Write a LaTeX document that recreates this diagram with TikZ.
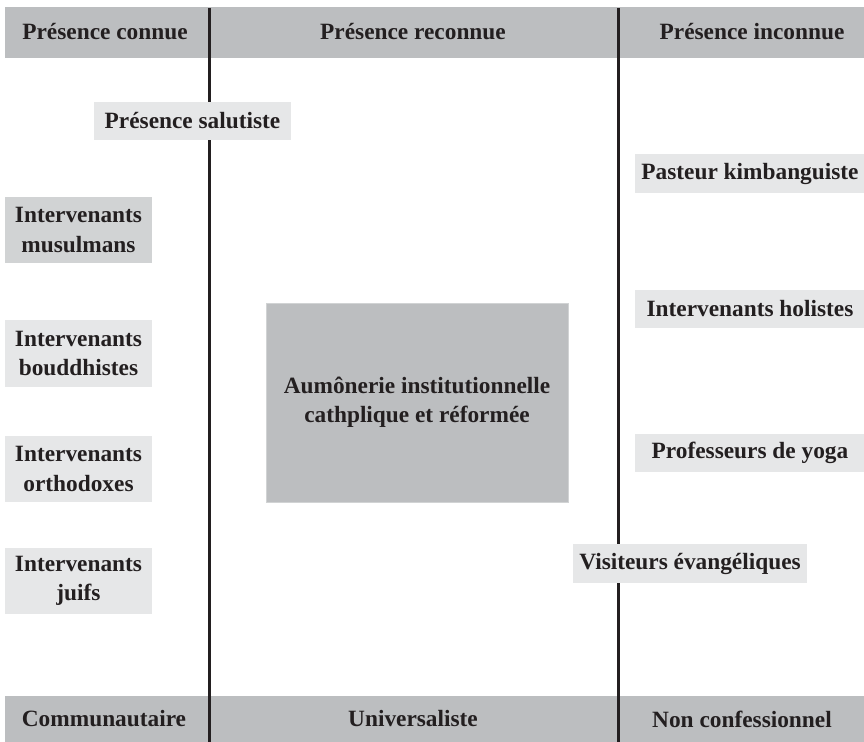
\documentclass[tikz,border=0pt]{standalone}
\usepackage{fontspec}
\setmainfont{Liberation Serif}
\definecolor{bandgray}{RGB}{188,190,192}
\definecolor{midgray}{RGB}{209,211,212}
\definecolor{lightgray}{RGB}{230,231,232}
\definecolor{ink}{RGB}{35,31,32}
\begin{document}
\begin{tikzpicture}[x=0.75pt,y=-0.75pt,
  lbl/.style={font=\bfseries\fontsize{17.5}{22}\selectfont, text=ink, align=center},
  band/.style={fill=bandgray, draw=none, inner sep=0pt, outer sep=0pt},
  tag/.style={lbl, fill=lightgray, draw=none, inner sep=0pt, outer sep=0pt},
  darktag/.style={tag, fill=midgray},
  divider/.style={draw=ink, line width=2.25pt},
  wh/.style 2 args={minimum width={#1*0.75pt}, minimum height={#2*0.75pt}}
]
\useasboundingbox (0,0) rectangle (864,742);

% bands
\node[band, wh={859}{51}] (topband) at (434.5,32.5) {};
\node[band, wh={859}{46}] (botband) at (434.5,719) {};

\node[lbl] (h1) at (105,32) {Présence connue};
\node[lbl] (h2) at (413,32) {Présence reconnue};
\node[lbl] (h3) at (752,32) {Présence inconnue};

\node[lbl] (f1) at (104,719) {Communautaire};
\node[lbl] (f2) at (413,719) {Universaliste};
\node[lbl] (f3) at (742,719) {Non confessionnel};

% dividers
\coordinate (l1t) at (209,8);
\coordinate (l1b) at (209,742);
\coordinate (l2t) at (618,8);
\coordinate (l2b) at (618,742);
\draw[divider] (l1t) -- (l1b);
\draw[divider] (l2t) -- (l2b);

% centre box
\node[lbl, fill=bandgray, draw=midgray, line width=0.75pt, inner sep=0pt, wh={302}{199}] (aum) at (417,402.5)
  {Aumônerie institutionnelle\\cathplique et réformée};

% left column
\node[tag, wh={197}{38}] (sal) at (192.5,121) {Présence salutiste};
\node[darktag, wh={147}{66}] (mus) at (78.5,230) {Intervenants\\musulmans};
\node[tag, wh={147}{67}] (bou) at (78.5,353.5) {Intervenants\\bouddhistes};
\node[tag, wh={147}{66}] (ort) at (78.5,469) {Intervenants\\orthodoxes};
\node[tag, wh={147}{66}] (jui) at (78.5,581) {Intervenants\\juifs};

% right column
\node[tag, wh={230}{39}] (pas) at (750,173.5) {Pasteur kimbanguiste};
\node[tag, wh={230}{38}] (hol) at (750,309) {Intervenants holistes};
\node[tag, wh={230}{38}] (yog) at (750,453) {Professeurs de yoga};
\node[tag, wh={234}{39}] (vis) at (690,563.5) {Visiteurs évangéliques};
\end{tikzpicture}
\end{document}
